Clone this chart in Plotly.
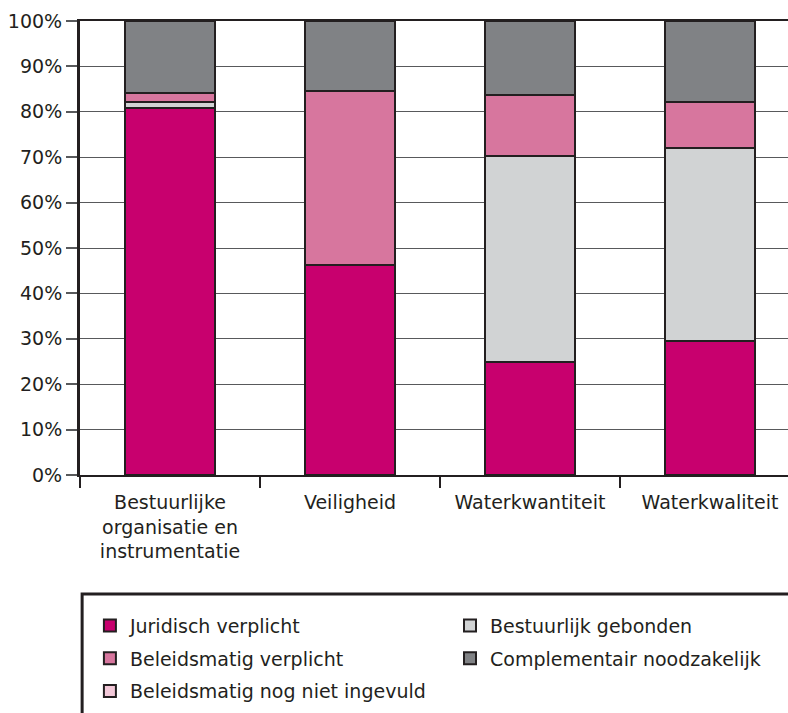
import plotly.graph_objects as go

categories = ["Bestuurlijke<br>organisatie en<br>instrumentatie", "Veiligheid", "Waterkwantiteit", "Waterkwaliteit"]

juridisch_verplicht = [80.8, 46.3, 24.8, 29.5]
bestuurlijk_gebonden = [1.4, 0.0, 45.5, 42.5]
beleidsmatig_verplicht = [2.0, 38.3, 13.4, 10.2]
beleidsmatig_nog_niet_ingevuld = [0.0, 0.0, 0.0, 0.0]
complementair_noodzakelijk = [15.8, 15.4, 16.3, 17.8]

y_ticks = list(range(0, 101, 10))

EDGE = "#231f20"
FONT = "DejaVu Sans, Liberation Sans, sans-serif"

series = [
    ("Juridisch verplicht", juridisch_verplicht, "#c8006e", "legend", 1),
    ("Bestuurlijk gebonden", bestuurlijk_gebonden, "#d1d3d4", "legend2", 1),
    ("Beleidsmatig verplicht", beleidsmatig_verplicht, "#d7769e", "legend", 2),
    ("Beleidsmatig nog niet ingevuld", beleidsmatig_nog_niet_ingevuld, "#f2c8d8", "legend", 3),
    ("Complementair noodzakelijk", complementair_noodzakelijk, "#808285", "legend2", 2),
]

fig = go.Figure()
for name, vals, color, leg, rank in series:
    fig.add_trace(go.Bar(
        x=categories, y=vals, name=name, width=0.5,
        marker=dict(color=color, line=dict(color=EDGE, width=2)),
        legend=leg, legendrank=rank, legendgroup=name,
    ))

fig.update_layout(
    barmode="stack",
    width=788, height=713,
    margin=dict(l=80, r=0, t=21, b=238),
    plot_bgcolor="white", paper_bgcolor="white",
    font=dict(family=FONT, size=19, color=EDGE),
    xaxis=dict(
        type="category", range=[-0.5, 3.4333],
        showline=True, linecolor=EDGE, linewidth=2, mirror=True,
        ticks="outside", tickson="boundaries", ticklen=11, tickwidth=1.5, tickcolor=EDGE,
        ticklabelstandoff=9,
        showgrid=False, tickfont=dict(size=19, color=EDGE),
    ),
    yaxis=dict(
        range=[0, 100], tickvals=y_ticks, ticktext=[f"{v}%" for v in y_ticks],
        showline=True, linecolor=EDGE, linewidth=3,
        ticks="outside", ticklen=11, tickwidth=1.5, tickcolor="#58595b",
        showgrid=True, gridcolor="#58595b", gridwidth=1.2,
        zeroline=False, tickfont=dict(size=19, color=EDGE),
    ),
    legend=dict(
        orientation="v", x=0.014, xanchor="left", y=-0.29, yanchor="top",
        bgcolor="rgba(0,0,0,0)", borderwidth=0, font=dict(size=19, color=EDGE),
        traceorder="grouped", tracegroupgap=5,
    ),
    legend2=dict(
        orientation="v", x=0.5226, xanchor="left", y=-0.29, yanchor="top",
        bgcolor="rgba(0,0,0,0)", borderwidth=0, font=dict(size=19, color=EDGE),
        traceorder="grouped", tracegroupgap=5,
    ),
    shapes=[dict(
        type="rect", xref="paper", yref="paper",
        x0=0.003, x1=1.2, y0=-0.262, y1=-0.7,
        line=dict(color=EDGE, width=3), fillcolor="rgba(0,0,0,0)", layer="below",
    )],
    showlegend=True,
)

fig.write_html(
    "out.html",
    config={"displayModeBar": False},
    post_script="document.body.style.margin='0';document.body.style.overflow='hidden';",
)
